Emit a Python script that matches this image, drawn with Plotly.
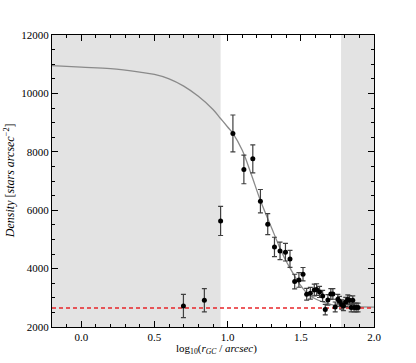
import plotly.graph_objects as go

# measured radial density profile
log_r = [0.698, 0.841, 0.952, 1.036, 1.111, 1.172, 1.224, 1.274, 1.320, 1.358, 1.395,
         1.426, 1.458, 1.487, 1.515, 1.540, 1.565, 1.592, 1.608, 1.628, 1.649, 1.667,
         1.685, 1.705, 1.719, 1.735, 1.753, 1.764, 1.780, 1.791, 1.807, 1.821, 1.832,
         1.844, 1.855, 1.864, 1.878, 1.891]
density = [2720, 2915, 5634, 8630, 7396, 7760, 6309, 5521, 4743, 4605, 4561,
           4331, 3556, 3611, 3807, 3121, 3155, 3268, 3282, 3200, 3063, 2596,
           2926, 3131, 3131, 2686, 2950, 2881, 2768, 2720, 2857, 2940, 2915,
           2665, 2915, 2665, 2665, 2665]
density_err = [400, 400, 500, 630, 490, 480, 400, 360, 330, 300, 300,
               290, 250, 250, 230, 200, 200, 200, 200, 190, 190, 180,
               180, 180, 180, 170, 170, 170, 160, 160, 160, 160, 160,
               150, 150, 150, 150, 150]

# fitted profile
fit_x = [-0.2, 0.0, 0.2, 0.4, 0.5, 0.6, 0.7, 0.8, 0.9, 0.95, 1.0, 1.036, 1.1, 1.16,
         1.224, 1.3, 1.354, 1.4, 1.422, 1.49, 1.558, 1.649, 1.762, 1.9, 2.0]
fit_y = [10950, 10900, 10850, 10730, 10650, 10500, 10250, 9900, 9450, 9150, 8850,
         8630, 8050, 7250, 6333, 5400, 4743, 4250, 4057, 3488, 3087, 2857, 2710,
         2690, 2680]

background = 2650
excluded = [(-0.2, 0.952), (1.775, 2.0)]

serif = "Liberation Serif, Times New Roman, serif"

fig = go.Figure()

for x0, x1 in excluded:
    fig.add_vrect(x0=x0, x1=x1, fillcolor="#e3e3e3", line_width=0, layer="below")

fig.add_trace(go.Scatter(x=fit_x, y=fit_y, mode="lines", line=dict(color="#8a8a8a", width=1.3, shape="spline"),
                         hoverinfo="skip"))
fig.add_trace(go.Scatter(x=[-0.2, 2.0], y=[background, background], mode="lines",
                         line=dict(color="#e8262a", width=1.4, dash="4px,3px")))
fig.add_trace(go.Scatter(
    x=log_r, y=density, mode="markers",
    marker=dict(color="black", size=5),
    error_y=dict(type="data", array=density_err, color="#404040", thickness=1.2, width=2.5),
))

axis_font = dict(family=serif, size=11, color="black")
common = dict(showline=True, linecolor="black", linewidth=1, mirror="ticks", ticks="inside",
              ticklen=6, tickcolor="black", showgrid=False, zeroline=False, tickfont=axis_font,
              automargin=False)

fig.update_xaxes(range=[-0.2, 2.0], dtick=0.5, tickformat=".1f", ticklabelstandoff=0,
                 minor=dict(dtick=0.1, ticks="inside", ticklen=3, tickcolor="black"),
                 **common)
fig.update_yaxes(range=[2000, 12000], dtick=2000, tickformat="d",
                 minor=dict(dtick=500, ticks="inside", ticklen=3, tickcolor="black"),
                 **common)

# axis titles as annotations so they sit where the reference puts them
fig.add_annotation(text="log<sub>10</sub>(<i>r<sub>GC</sub></i> / <i>arcsec</i>)",
                   xref="paper", yref="paper", x=0.51, y=-0.074, xanchor="center", yanchor="middle",
                   showarrow=False, font=dict(family=serif, size=11, color="black"))
fig.add_annotation(text="<i>Density</i> [<i>stars arcsec</i><sup>−2</sup>]",
                   xref="paper", yref="paper", x=-0.133, y=0.5, xanchor="center", yanchor="middle",
                   textangle=-90, showarrow=False, font=dict(family=serif, size=12, color="black"))

fig.update_layout(
    width=416, height=363,
    margin=dict(l=52, r=42, t=35, b=36),
    plot_bgcolor="white", paper_bgcolor="white",
    showlegend=False,
)

# drop the default page margin so the figure fills the window
fig.write_html("out.html", config={"displayModeBar": False},
               post_script="document.body.style.margin='0';")
